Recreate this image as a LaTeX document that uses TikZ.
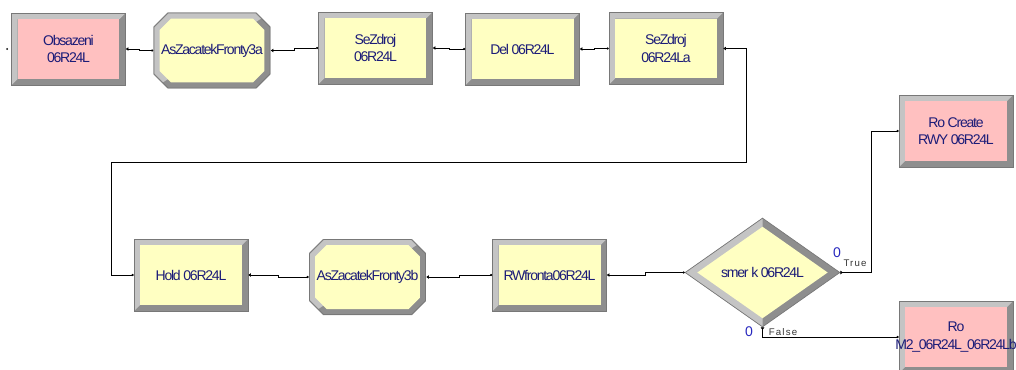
\documentclass[tikz,border=0pt]{standalone}
\usepackage{fontspec}
\setmainfont{Liberation Sans}
\newfontfamily\modfont[LetterSpace=-9]{Liberation Sans}
\newfontfamily\vetfont[LetterSpace=12]{Liberation Sans}
\usetikzlibrary{arrows.meta,calc,shapes.geometric}

\definecolor{modtext}{RGB}{28,28,120}
\definecolor{ruzova}{RGB}{255,192,192}
\definecolor{zluta}{RGB}{255,255,194}
\definecolor{hranasv}{RGB}{196,196,196}
\definecolor{hranatm}{RGB}{142,142,142}
\definecolor{obrys}{RGB}{120,120,120}
\definecolor{pocet}{RGB}{40,40,190}

% corners of the current path picture
\newcommand{\rohy}{%
  \coordinate (pNW) at (path picture bounding box.north west);
  \coordinate (pSE) at (path picture bounding box.south east);
  \coordinate (pNE) at (pNW -| pSE);
  \coordinate (pSW) at (pNW |- pSE);}
% octagon: #1 inset, #2 corner cut
\newcommand{\osmi}[2]{($(pNW)+(#1+#2,-#1)$) -- ($(pNE)+(-#1-#2,-#1)$) -- ($(pNE)+(-#1,-#1-#2)$) -- ($(pSE)+(-#1,#1+#2)$) -- ($(pSE)+(-#1-#2,#1)$) -- ($(pSW)+(#1+#2,#1)$) -- ($(pSW)+(#1,#1+#2)$) -- ($(pNW)+(#1,-#1-#2)$) -- cycle}

\begin{document}
\begin{tikzpicture}[x=0.02cm,y=-0.02cm,
  modul/.style={rectangle,inner sep=0pt,minimum width=2.28cm,minimum height=1.44cm,
    fill=hranatm,draw=obrys,line width=0.4pt,align=center,text=modtext,
    font=\modfont\fontsize{8}{10}\selectfont,
    path picture={\rohy
      \fill[hranasv] (pNW) -- (pNE) -- ($(pNE)+(-1.2mm,-1.2mm)$) -- ($(pNW)+(1.2mm,-1.2mm)$)
        -- ($(pSW)+(1.2mm,1.2mm)$) -- (pSW) -- cycle;
      \fill[#1] ($(pNW)+(1.2mm,-1.2mm)$) rectangle ($(pSE)+(-1.2mm,1.2mm)$);}},
  fronta/.style={rectangle,inner sep=0pt,minimum width=2.34cm,minimum height=1.52cm,
    align=center,text=modtext,font=\modfont\fontsize{8}{10}\selectfont,
    path picture={\rohy
      \fill[hranatm] \osmi{0mm}{2.8mm};
      \begin{scope}
        \clip \osmi{0mm}{2.8mm};
        \fill[hranasv] (pNW) -- (pNE) -- (pSW) -- cycle;
      \end{scope}
      \fill[#1] \osmi{1.2mm}{2.3mm};
      \draw[obrys,line width=0.4pt] \osmi{0.1mm}{2.8mm};}},
  rozhod/.style={diamond,inner sep=0pt,minimum width=3.1cm,minimum height=2.18cm,
    draw=obrys,line width=0.4pt,text=modtext,font=\modfont\fontsize{8}{10}\selectfont,
    path picture={\rohy
      \coordinate (pN) at ($(pNW)!.5!(pNE)$);
      \coordinate (pS) at ($(pSW)!.5!(pSE)$);
      \coordinate (pW) at ($(pNW)!.5!(pSW)$);
      \coordinate (pE) at ($(pNE)!.5!(pSE)$);
      \fill[hranatm] (pW) -- (pN) -- (pE) -- (pS) -- cycle;
      \fill[hranasv] (pN) -- (pW) -- (pS) -- cycle;
      \fill[#1] ($(pW)+(2.44mm,0)$) -- ($(pN)+(0,-1.72mm)$) -- ($(pE)+(-2.44mm,0)$)
        -- ($(pS)+(0,1.72mm)$) -- cycle;}},
  spoj/.style={draw=black,line width=0.5pt,
    arrows={Triangle[length=1.5pt,width=2pt]-Circle[length=1.2pt]}},
  vetev/.style={spoj,arrows={Triangle[reversed,length=1.5pt,width=2pt]-Circle[length=1.2pt]}},
  jog/.style={to path={-| ($(\tikztostart)!.5!(\tikztotarget)$) |- (\tikztotarget)}},
  citac/.style={text=pocet,inner sep=0pt,font=\fontsize{8}{9}\selectfont},
  vettxt/.style={text=black!80,inner sep=0pt,font=\vetfont\fontsize{5.5}{6}\selectfont},
]
\useasboundingbox (0,0) rectangle (1016,369);
\clip (0,0) rectangle (1016,369);

% top row
\node[modul=ruzova] (obs) at (68.5,49) {Obsazeni\\06R24L};
\node[fronta=zluta] (asa) at (212,50.5) {AsZacatekFronty3a};
\node[modul=zluta] (sez) at (375.5,48) {SeZdroj\\06R24L};
\node[modul=zluta] (del) at (522.5,49) {Del 06R24L};
\node[modul=zluta] (sezla) at (666,48.5) {SeZdroj\\06R24La};

% bottom row
\node[modul=zluta] (hold) at (191,275) {Hold 06R24L};
\node[fronta=zluta] (asb) at (367.5,277) {AsZacatekFronty3b};
\node[modul=zluta] (rwf) at (549.5,275) {RWfronta06R24L};
\node[rozhod=zluta] (smer) at (762.5,272.5) {smer k 06R24L};
\node[modul=ruzova] (rocr) at (956,131) {Ro Create\\RWY 06R24L};
\node[modul=ruzova] (rom2) at (956,337) {Ro\\\makebox[0pt]{M2\_06R24L\_06R24Lb}};

% entry point of the first module
\fill ($(obs.west)+(-4,0)$) circle[radius=0.6pt];

% connections
\draw[spoj] (obs.east) to[jog] (asa.west);
\draw[spoj] (asa.east) to[jog] (sez.west);
\draw[spoj] (sez.east) to[jog] (del.west);
\draw[spoj] (del.east) to[jog] (sezla.west);
\coordinate (zlomA) at (746,162);
\coordinate (zlomB) at (111,162);
\draw[spoj] (sezla.east) -| (zlomA) -- (zlomB) |- (hold.west);
\draw[spoj] (hold.east) to[jog] (asb.west);
\draw[spoj] (asb.east) to[jog] (rwf.west);
\draw[spoj] (rwf.east) to[jog] (smer.west);
\coordinate (zlomC) at (871,200);
\draw[vetev] (smer.east) -| (zlomC) |- (rocr.west);
\draw[vetev] (smer.south) |- (rom2.west);

% branch counters
\node[citac] (pravda0) at (837,253) {0};
\node[vettxt] (pravda) at (855,263) {True};
\node[citac] (nepravda0) at (749,332) {0};
\node[vettxt] (nepravda) at (783,332) {False};
\end{tikzpicture}
\end{document}
